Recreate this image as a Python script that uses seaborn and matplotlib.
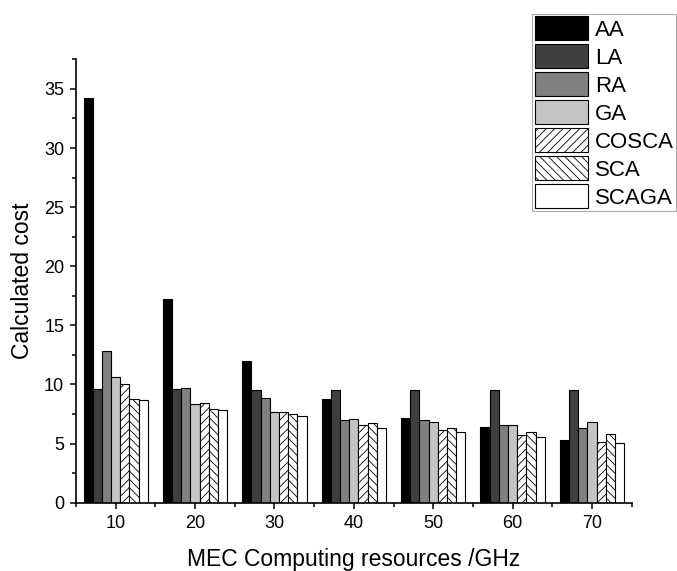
import numpy as np
import pandas as pd
import matplotlib
matplotlib.use("Agg")
import matplotlib.pyplot as plt
from matplotlib.patches import Patch
from matplotlib.ticker import MultipleLocator
import seaborn as sns

resources = ["10", "20", "30", "40", "50", "60", "70"]
algorithms = ["AA", "LA", "RA", "GA", "COSCA", "SCA", "SCAGA"]
AA = [34.2, 17.2, 12.0, 8.8, 7.2, 6.4, 5.3]
LA = [9.6, 9.6, 9.55, 9.55, 9.57, 9.52, 9.57]
RA = [12.85, 9.7, 8.85, 7.0, 7.0, 6.6, 6.35]
GA = [10.65, 8.35, 7.7, 7.1, 6.8, 6.6, 6.85]
COSCA = [10.0, 8.4, 7.65, 6.6, 6.15, 5.75, 5.1]
SCA = [8.75, 7.95, 7.5, 6.75, 6.3, 6.0, 5.8]
SCAGA = [8.7, 7.8, 7.3, 6.35, 5.95, 5.6, 5.05]
series = [AA, LA, RA, GA, COSCA, SCA, SCAGA]

colors = ["#000000", "#3f3f3f", "#808080", "#c4c4c4", "#ffffff", "#ffffff", "#ffffff"]
hatches = [None, None, None, None, "////", "\\\\\\\\", None]

rows = []
for alg, vals in zip(algorithms, series):
    for r, v in zip(resources, vals):
        rows.append({"resource": r, "algorithm": alg, "cost": v})
df = pd.DataFrame(rows)

sns.set_style("ticks")
plt.rcParams["font.family"] = ["Liberation Sans", "DejaVu Sans"]
plt.rcParams["text.color"] = "black"
plt.rcParams["axes.labelcolor"] = "black"
plt.rcParams["xtick.color"] = "black"
plt.rcParams["ytick.color"] = "black"
plt.rcParams["hatch.linewidth"] = 0.6
plt.rcParams["hatch.color"] = "#444444"

fig = plt.figure(figsize=(6.77, 5.71), dpi=100)
ax = fig.add_axes([0.1123, 0.1196, 0.933 - 0.1123, 0.896 - 0.1196])

sns.barplot(data=df, x="resource", y="cost", hue="algorithm",
            order=resources, hue_order=algorithms, palette=colors,
            edgecolor="black", linewidth=0.8, width=0.81, gap=0,
            saturation=1, legend=False, ax=ax, errorbar=None)

for cont, h, c in zip(ax.containers, hatches, colors):
    for bar in cont:
        bar.set_facecolor(c)
        if h:
            bar.set_hatch(h)

ax.set_xlim(-0.5, 6.5)
ax.set_ylim(0, 37.5)
ax.yaxis.set_major_locator(MultipleLocator(5))
ax.yaxis.set_minor_locator(MultipleLocator(2.5))
ax.set_xticks(np.arange(-0.5, 7, 1), minor=True)
ax.tick_params(axis="both", which="major", direction="out", length=4.5, width=1.1,
               labelsize=13, colors="black", pad=4)
ax.tick_params(axis="both", which="minor", direction="out", length=3, width=1.1, colors="black")
for s in ["top", "right"]:
    ax.spines[s].set_visible(False)
for s in ["left", "bottom"]:
    ax.spines[s].set_linewidth(1.2)
    ax.spines[s].set_color("black")
ax.set_xlabel("MEC Computing resources /GHz", fontsize=16.5, labelpad=12, color="black")
ax.set_ylabel("Calculated cost", fontsize=16.5, labelpad=7, color="black")

handles = [Patch(facecolor=c, edgecolor="black", hatch=h, linewidth=0.8)
           for c, h in zip(colors, hatches)]
leg = fig.legend(handles, algorithms, loc="upper left", bbox_to_anchor=(0.786, 0.976),
                 fontsize=16, handlelength=2.4, handleheight=1.25, labelspacing=0.17,
                 handletextpad=0.3, borderpad=0.12, borderaxespad=0, fancybox=False,
                 frameon=True, edgecolor="#aaaaaa", framealpha=1)
leg.get_frame().set_linewidth(0.8)
for t in leg.get_texts():
    t.set_color("black")

fig.savefig("out.png", dpi=100)
